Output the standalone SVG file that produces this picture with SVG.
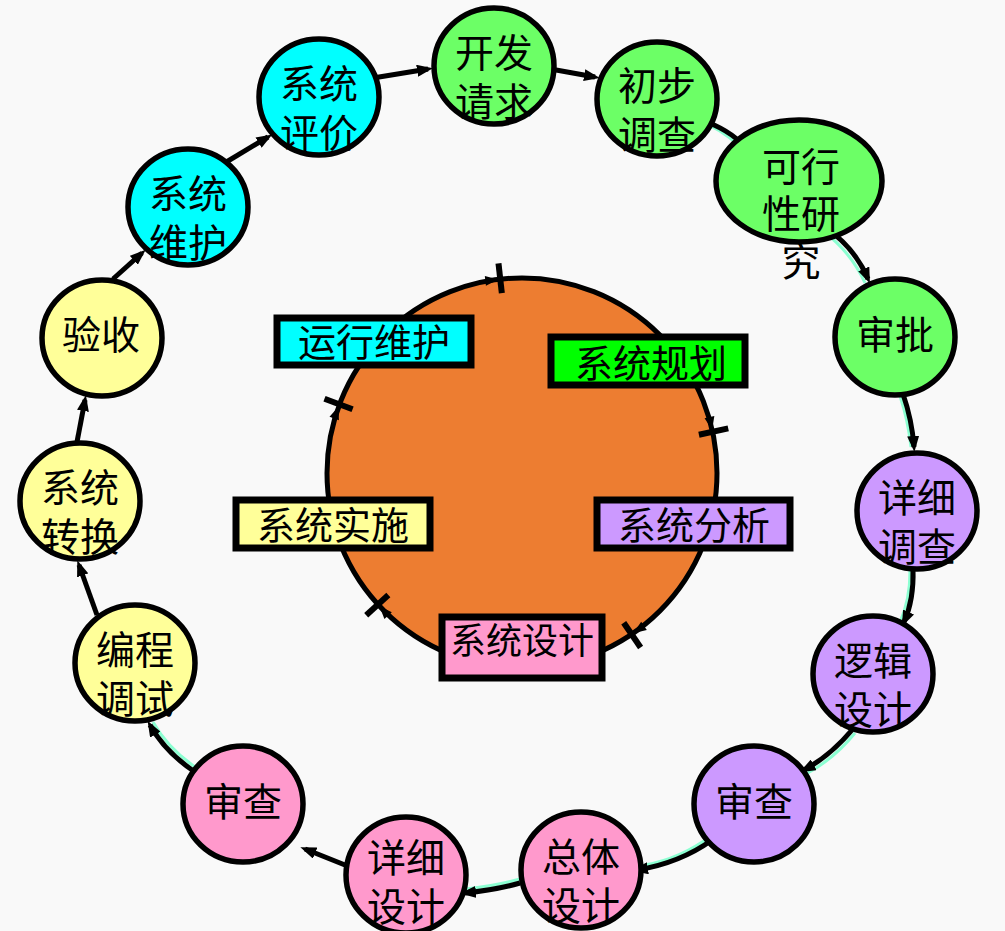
<svg xmlns="http://www.w3.org/2000/svg" xmlns:xlink="http://www.w3.org/1999/xlink" width="1005" height="931" viewBox="0 0 1005 931">
<style>
.nd{stroke:#000;stroke-width:5.5}
.g{fill:#6CFF66}.c{fill:#00FFFF}.y{fill:#FFFF99}.p{fill:#CC99FF}.k{fill:#FF99CC}
.t{font-family:"Noto Sans CJK SC","Noto Sans CJK JP",sans-serif;font-size:39px;fill:#000;text-anchor:middle}
.lt{font-family:"Noto Sans CJK SC","Noto Sans CJK JP",sans-serif;font-size:38px;fill:#000;text-anchor:middle}
.box{stroke:#000;stroke-width:7}
.con{fill:none;stroke:#000;stroke-width:5;marker-end:url(#ah)}
.sh{fill:none;stroke:#8CFFD2;stroke-width:3}
</style>
<defs>
<marker id="ah" markerUnits="userSpaceOnUse" viewBox="0 0 16 12" refX="11" refY="6" markerWidth="16" markerHeight="12" orient="auto">
<path d="M0,0 L16,6 L0,12 z" fill="#000"/>
</marker>
<g id="tick">
<line x1="703" y1="473" x2="733" y2="473" stroke="#000" stroke-width="6"/>
<polygon points="717,471 712,458 722,458" fill="#000"/>
</g>
</defs>
<rect width="1005" height="931" fill="#F9F9F9"/>

<g id="phase-circle">
<circle cx="522" cy="473" r="195" fill="#ED7D31" stroke="#000" stroke-width="5"/>
<use xlink:href="#tick" href="#tick" transform="rotate(-96.4 522 473)"/>
<use xlink:href="#tick" href="#tick" transform="rotate(-12.2 522 473)"/>
<use xlink:href="#tick" href="#tick" transform="rotate(55.8 522 473)"/>
<use xlink:href="#tick" href="#tick" transform="rotate(137.6 522 473)"/>
<use xlink:href="#tick" href="#tick" transform="rotate(200.6 522 473)"/>
</g>

<g id="label-yunxing"><rect class="box c" x="277" y="318" width="194" height="47"/><text class="lt" x="374" y="356">运行维护</text></g>
<g id="label-guihua"><rect class="box" fill="#00FF00" x="551" y="337" width="194" height="48"/><text class="lt" x="651" y="377">系统规划</text></g>
<g id="label-shishi"><rect class="box y" x="236" y="500" width="194" height="48"/><text class="lt" x="333" y="539">系统实施</text></g>
<g id="label-fenxi"><rect class="box p" x="597" y="500" width="193" height="48"/><text class="lt" x="694" y="539">系统分析</text></g>

<g id="connectors">
<path class="sh" d="M709,125 Q733,137 746,154"/>
<path class="sh" d="M823,231 Q851,252 865,283"/>
<path class="sh" d="M900,396 Q908,420 911,447"/>
<path class="sh" d="M910,571 Q910,600 900,622"/>
<path class="sh" d="M855,733 Q834,759 806,774"/>
<path class="sh" d="M711,836 Q680,859 645,865"/>
<path class="sh" d="M520,879 Q495,886 466,889"/>
<path class="sh" d="M198,769 Q168,749 153,722"/>
<path class="con" d="M373,78 L428,69"/>
<path class="con" d="M545,68 L595,77"/>
<path class="con" d="M707,122 Q735,133 748,151"/>
<path class="con" d="M826,228 Q855,248 868,279"/>
<path class="con" d="M903,394 Q912,420 914,447"/>
<path class="con" d="M913,569 Q914,600 904,622"/>
<path class="con" d="M852,730 Q830,756 804,770"/>
<path class="con" d="M712,840 Q680,863 637,870"/>
<path class="con" d="M520,883 Q495,890 465,893"/>
<path class="con" d="M345,865 L305,849"/>
<path class="con" d="M195,772 Q165,752 150,725"/>
<path class="con" d="M97,615 L79,565"/>
<path class="con" d="M77,442 L85,400"/>
<path class="con" d="M113,279 L142,253"/>
<path class="con" d="M218,167 L268,137"/>
</g>

<g id="label-sheji"><rect class="box k" x="442" y="617" width="160" height="61"/><text class="lt" x="522" y="654" style="font-size:36px">系统设计</text></g>

<g id="n-kaifa"><ellipse class="nd g" cx="494" cy="66" rx="60" ry="58"/><text class="t" x="494" y="67">开发</text><text class="t" x="494" y="116">请求</text></g>
<g id="n-chubu"><ellipse class="nd g" cx="657" cy="99" rx="60" ry="57"/><text class="t" x="657" y="100">初步</text><text class="t" x="657" y="149">调查</text></g>
<g id="n-kexing"><ellipse class="nd g" cx="799" cy="181" rx="83" ry="61"/><text class="t" x="801" y="181">可行</text><text class="t" x="801" y="228">性研</text><text class="t" x="801" y="276">究</text></g>
<g id="n-shenpi"><ellipse class="nd g" cx="895" cy="337" rx="60" ry="58"/><text class="t" x="895" y="349">审批</text></g>
<g id="n-xxdc"><ellipse class="nd p" cx="917" cy="511" rx="60" ry="58"/><text class="t" x="917" y="512">详细</text><text class="t" x="917" y="561">调查</text></g>
<g id="n-luoji"><ellipse class="nd p" cx="873" cy="674" rx="60" ry="58"/><text class="t" x="873" y="675">逻辑</text><text class="t" x="873" y="724">设计</text></g>
<g id="n-shencha1"><ellipse class="nd p" cx="754" cy="804" rx="60" ry="58"/><text class="t" x="754" y="816">审查</text></g>
<g id="n-zongti"><ellipse class="nd k" cx="581" cy="870" rx="60" ry="58"/><text class="t" x="581" y="871">总体</text><text class="t" x="581" y="920">设计</text></g>
<g id="n-xxsj"><ellipse class="nd k" cx="406" cy="875" rx="60" ry="58"/><text class="t" x="406" y="872">详细</text><text class="t" x="406" y="921">设计</text></g>
<g id="n-shencha2"><ellipse class="nd k" cx="243" cy="804" rx="60" ry="58"/><text class="t" x="243" y="816">审查</text></g>
<g id="n-biancheng"><ellipse class="nd y" cx="135" cy="663" rx="60" ry="58"/><text class="t" x="135" y="664">编程</text><text class="t" x="135" y="713">调试</text></g>
<g id="n-zhuanhuan"><ellipse class="nd y" cx="80" cy="501" rx="60" ry="58"/><text class="t" x="80" y="502">系统</text><text class="t" x="80" y="551">转换</text></g>
<g id="n-yanshou"><ellipse class="nd y" cx="102" cy="338" rx="60" ry="58"/><text class="t" x="101" y="349">验收</text></g>
<g id="n-weihu"><ellipse class="nd c" cx="188" cy="207" rx="60" ry="58"/><text class="t" x="188" y="208">系统</text><text class="t" x="188" y="257">维护</text></g>
<g id="n-pingjia"><ellipse class="nd c" cx="319" cy="97" rx="60" ry="58"/><text class="t" x="319" y="98">系统</text><text class="t" x="319" y="147">评价</text></g>
</svg>
